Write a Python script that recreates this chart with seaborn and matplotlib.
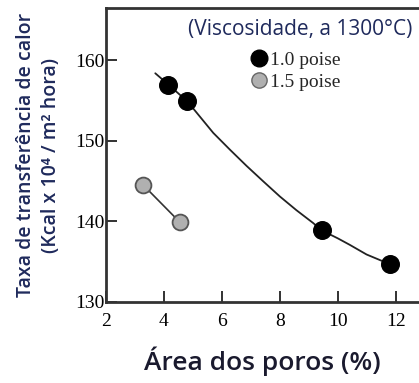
import pandas as pd
import seaborn as sns
import matplotlib.pyplot as plt
from matplotlib.lines import Line2D

# points
area_10 = [4.15, 4.81, 9.44, 11.79]
taxa_10 = [157.0, 154.9, 138.9, 134.7]
area_15 = [3.29, 4.55]
taxa_15 = [144.5, 139.9]

# trend curve through the 1.0 poise points
curve_x = [3.70, 4.15, 4.81, 5.70, 6.28, 6.85, 7.42, 8.00, 8.57, 9.15, 9.44, 10.00, 10.41, 10.99, 11.79]
curve_y = [158.4, 157.0, 154.9, 151.0, 148.9, 146.9, 145.0, 143.1, 141.4, 139.8, 138.9, 137.9, 137.1, 135.9, 134.7]

xticks = [2, 4, 6, 8, 10, 12]
yticks = [130, 140, 150, 160]

df10 = pd.DataFrame({'area': area_10, 'taxa': taxa_10})
df15 = pd.DataFrame({'area': area_15, 'taxa': taxa_15})
curve = pd.DataFrame({'area': curve_x, 'taxa': curve_y})

sns.set_theme(style="ticks")
plt.rcParams['font.family'] = ['Liberation Serif', 'DejaVu Serif']

fig = plt.figure(figsize=(4.19, 3.83), dpi=100)
ax = fig.add_axes([0.253, 0.2115, 0.747, 0.7675])

navy = '#1f2a5c'

sns.lineplot(data=curve, x='area', y='taxa', color='#222222', linewidth=1.3, ax=ax, sort=False)
sns.lineplot(data=df15, x='area', y='taxa', color='#333333', linewidth=1.2, ax=ax)
sns.scatterplot(data=df10, x='area', y='taxa', color='black', s=160, edgecolor='black', zorder=3, ax=ax)
sns.scatterplot(data=df15, x='area', y='taxa', color='#b0b0b0', s=130, edgecolor='#555555',
                linewidth=1.3, zorder=3, ax=ax)

ax.set_xlim(2, 12.8)
ax.set_ylim(130, 166.5)
ax.set_xticks(xticks)
ax.set_yticks(yticks)
ax.tick_params(direction='in', length=8, width=1.3, colors='#222222', labelsize=14,
               labelcolor='black')
ax.tick_params(axis='x', pad=8)
ax.tick_params(axis='y', pad=1)
for side in ['left', 'bottom', 'top']:
    ax.spines[side].set_linewidth(2)
    ax.spines[side].set_color('#333333')
ax.spines['right'].set_visible(False)

ax.set_xlabel('Área dos poros (%)', family=['Open Sans', 'DejaVu Sans'], fontsize=19,
              fontweight='semibold', color='#1a1a2e', labelpad=12)
ax.set_ylabel('Taxa de transferência de calor\n(Kcal x 10⁴ / m² hora)',
              family=['Open Sans', 'DejaVu Sans'], fontsize=14, fontweight='semibold',
              color=navy, labelpad=10, linespacing=1.35)

# legend: title drawn as its own text, entries below it
fig.text(0.716, 0.922, '(Viscosidade, a 1300°C)', family=['Open Sans', 'DejaVu Sans'],
         fontsize=15, color=navy, ha='center', va='center')
handles = [
    Line2D([], [], marker='o', linestyle='none', markersize=12, color='black', label='1.0 poise'),
    Line2D([], [], marker='o', linestyle='none', markersize=11, markerfacecolor='#b0b0b0',
           markeredgecolor='#666666', label='1.5 poise'),
]
ax.legend(handles=handles, loc='center left', bbox_to_anchor=(0.599, 0.8146),
          bbox_transform=fig.transFigure, frameon=False, fontsize=14,
          handlelength=0.8, handletextpad=0.2, labelspacing=0.2,
          borderaxespad=0.0, borderpad=0.0)

plt.savefig('out.png', dpi=100)
